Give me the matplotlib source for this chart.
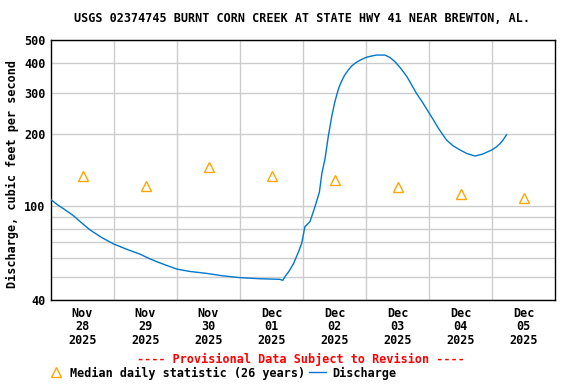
import numpy as np
import matplotlib
matplotlib.use("Agg")
import matplotlib.pyplot as plt
from matplotlib.ticker import FixedLocator, NullFormatter, FixedFormatter

# discharge readings, days since Nov 28 2025 00:00
flow_days = [0.0, 0.1, 0.2, 0.35, 0.5, 0.62, 0.8, 0.99, 1.2, 1.41, 1.55, 1.68,
             1.85, 2.0, 2.2, 2.47, 2.7, 3.0, 3.3, 3.63, 3.68, 3.71, 3.78, 3.85,
             3.93, 3.98, 4.03, 4.11, 4.15, 4.19, 4.26, 4.30, 4.35, 4.40, 4.455,
             4.5, 4.535, 4.57, 4.61, 4.66, 4.72, 4.78, 4.85, 4.93, 5.01, 5.09,
             5.17, 5.30, 5.38, 5.46, 5.55, 5.65, 5.72, 5.80, 5.90, 5.99, 6.07,
             6.15, 6.22, 6.28, 6.38, 6.49, 6.60, 6.73, 6.85, 7.0, 7.07, 7.13,
             7.18, 7.23]
flow_cfs = [106, 101, 97, 91, 84, 79, 73.5, 69, 65.5, 62.5, 60, 58,
            55.8, 54, 52.8, 51.8, 50.7, 49.7, 49.2, 48.9, 48.4, 50, 53, 57,
            64, 69.5, 81.5, 85.6, 92, 99, 114, 137, 158, 195, 237,
            270, 293, 315, 334, 355, 374, 390, 403, 414, 423, 428,
            432, 432, 422, 405, 380, 350, 325, 298, 272, 249, 230,
            212, 199, 189, 179, 172, 166, 162, 165, 172, 177, 183,
            190, 199]

# median daily statistic (26 years), one per day at noon
median_days = [0.5, 1.5, 2.5, 3.5, 4.5, 5.5, 6.5, 7.5]
median_cfs = [134, 121, 146, 134, 128, 120, 112, 108]

day_labels = ["Nov\n28\n2025", "Nov\n29\n2025", "Nov\n30\n2025", "Dec\n01\n2025",
              "Dec\n02\n2025", "Dec\n03\n2025", "Dec\n04\n2025", "Dec\n05\n2025"]

mono = "DejaVu Sans Mono"
fs = 8.5

fig = plt.figure(figsize=(5.76, 3.84), dpi=100)
ax = fig.add_axes([51 / 576, 1 - 300 / 384, 504 / 576, 260 / 384])

ax.plot(flow_days, flow_cfs, color="#0077cc", lw=1.0, zorder=3)
ax.plot(median_days, median_cfs, linestyle="none", marker="^", markersize=7,
        markerfacecolor="none", markeredgecolor="#ffa500", markeredgewidth=1.0, zorder=4)

ax.set_yscale("log")
ax.set_ylim(40, 500)
ax.set_xlim(0, 8)

ax.yaxis.set_major_locator(FixedLocator([40, 100, 200, 300, 400, 500]))
ax.yaxis.set_major_formatter(FixedFormatter(["40", "100", "200", "300", "400", "500"]))
ax.yaxis.set_minor_locator(FixedLocator([50, 60, 70, 80, 90]))
ax.yaxis.set_minor_formatter(NullFormatter())

ax.xaxis.set_major_locator(FixedLocator(median_days))
ax.xaxis.set_major_formatter(FixedFormatter(day_labels))
ax.xaxis.set_minor_locator(FixedLocator(range(1, 8)))

ax.tick_params(which="both", length=0)
ax.tick_params(axis="x", pad=5)
ax.tick_params(axis="y", pad=4)
for lab in ax.get_xticklabels() + ax.get_yticklabels():
    lab.set_fontfamily(mono)
    lab.set_fontweight("bold")
    lab.set_fontsize(fs)
for lab in ax.get_xticklabels():
    lab.set_linespacing(1.05)

ax.grid(True, which="major", axis="y", color="#cccccc", lw=1.0)
ax.grid(True, which="minor", axis="both", color="#cccccc", lw=1.0)
ax.set_axisbelow(True)
for sp in ax.spines.values():
    sp.set_color("black")
    sp.set_linewidth(1.0)

ax.set_ylabel("Discharge, cubic feet per second", fontfamily=mono,
              fontweight="bold", fontsize=fs, labelpad=4)
ax.yaxis.set_label_coords(-0.064, 0.485)

fig.text(302 / 576, 1 - 19 / 384, "USGS 02374745 BURNT CORN CREEK AT STATE HWY 41 NEAR BREWTON, AL.",
         ha="center", va="center", fontfamily=mono, fontweight="bold", fontsize=fs)
fig.text(301 / 576, 1 - 359 / 384, "---- Provisional Data Subject to Revision ----",
         ha="center", va="center", fontfamily=mono, fontweight="bold", fontsize=fs, color="red")

# legend row
fig.lines.append(plt.Line2D([56 / 576], [1 - 372 / 384], marker="^", markersize=7,
                            markerfacecolor="none", markeredgecolor="#ffa500",
                            transform=fig.transFigure, linestyle="none"))
fig.text(70 / 576, 1 - 373 / 384, "Median daily statistic (26 years)",
         ha="left", va="center", fontfamily=mono, fontweight="bold", fontsize=fs)
fig.lines.append(plt.Line2D([309 / 576, 326 / 576], [1 - 372 / 384, 1 - 372 / 384],
                            color="#0077cc", lw=1.0, transform=fig.transFigure))
fig.text(332 / 576, 1 - 373 / 384, "Discharge",
         ha="left", va="center", fontfamily=mono, fontweight="bold", fontsize=fs)

fig.savefig("out.png", dpi=100)
